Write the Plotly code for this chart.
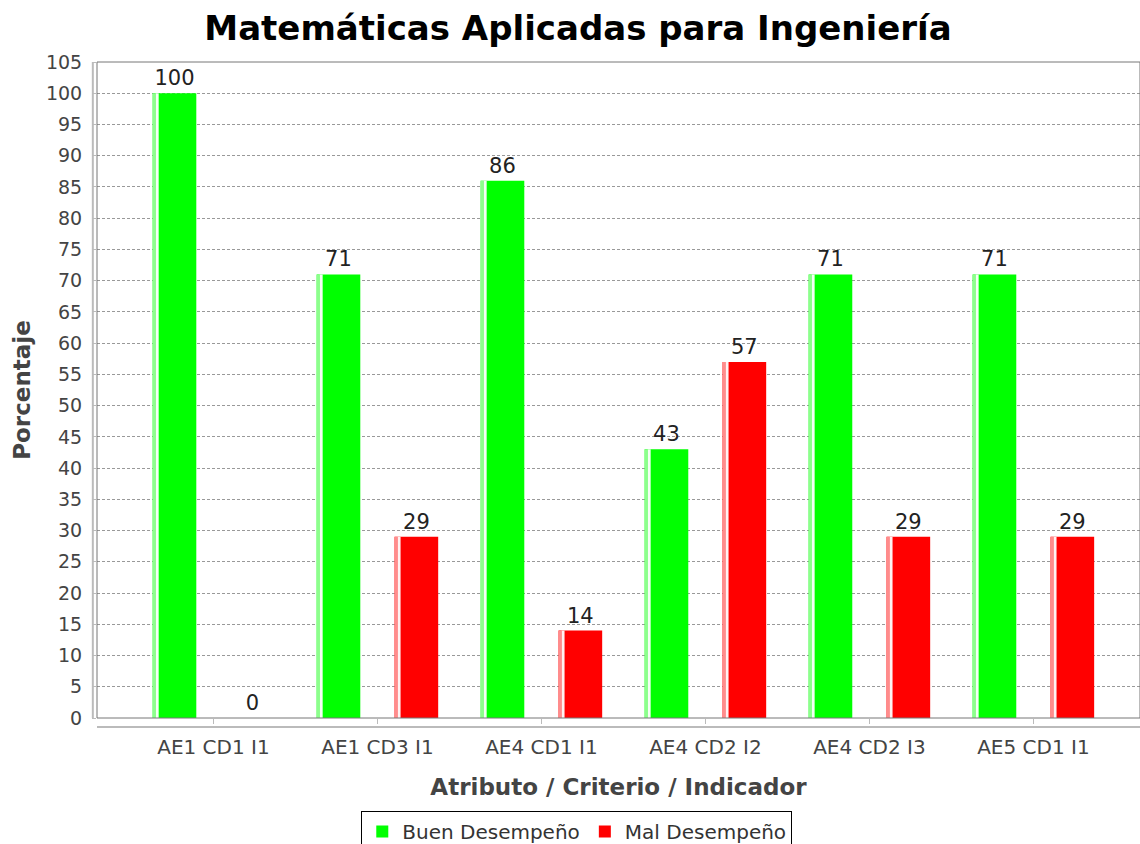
import plotly.graph_objects as go

categories = ["AE1 CD1 I1", "AE1 CD3 I1", "AE4 CD1 I1", "AE4 CD2 I2", "AE4 CD2 I3", "AE5 CD1 I1"]
buen = [100, 71, 86, 43, 71, 71]
mal = [0, 29, 14, 57, 29, 29]
yticks = list(range(0, 106, 5))

FONT = "DejaVu Sans"
BARGAP, GROUPGAP = 0.05, 0.44
slot = (1 - BARGAP) / 2
bw = slot * (1 - GROUPGAP)
px = 1 / 164.0  # approx category units per pixel

fig = go.Figure()
fig.add_trace(go.Bar(name="Buen Desempeño", x=categories, y=buen, marker=dict(color="#00ff00", line=dict(width=0)),
                     text=buen, textposition="outside", cliponaxis=False,
                     textfont=dict(family=FONT, size=21, color="#222")))
fig.add_trace(go.Bar(name="Mal Desempeño", x=categories, y=mal, marker=dict(color="#ff0000", line=dict(width=0)),
                     text=mal, textposition="outside", cliponaxis=False,
                     textfont=dict(family=FONT, size=21, color="#222")))

# highlight stripes (gradient look of the original renderer)
for vals, sign, tint in [(buen, -1, "#8cff8c"), (mal, 1, "#ff8c8c")]:
    left = sign * slot / 2 - bw / 2
    fig.add_trace(go.Bar(x=categories, y=vals, offset=left, width=3 * px, marker=dict(color=tint, line=dict(width=0)),
                         showlegend=False, hoverinfo="skip"))
    fig.add_trace(go.Bar(x=categories, y=vals, offset=left + 3 * px, width=3 * px,
                         marker=dict(color="#f4fff4" if sign < 0 else "#fff2f2", line=dict(width=0)),
                         showlegend=False, hoverinfo="skip"))

fig.update_layout(
    width=1140, height=844,
    margin=dict(l=97, r=0, t=62, b=126, autoexpand=False),
    paper_bgcolor="white", plot_bgcolor="white",
    barmode="group", bargap=BARGAP, bargroupgap=GROUPGAP,
    font=dict(family=FONT, color="#444"),
    title=dict(text="<b>Matemáticas Aplicadas para Ingeniería</b>", x=0.507, xanchor="center", y=0.967, yanchor="middle",
               font=dict(family=FONT, size=34, color="black")),
    xaxis=dict(range=[-0.71, 5.65], showgrid=False, automargin=False,
               ticks="outside", ticklen=5, tickcolor="#bbb", ticklabelstandoff=6,
               tickfont=dict(size=20, color="#444"),
               title=dict(text="<b>Atributo / Criterio / Indicador</b>", font=dict(size=23, color="#444"), standoff=20)),
    yaxis=dict(range=[0, 105], tickvals=yticks, showgrid=True, gridcolor="#999", griddash="3px,2px", gridwidth=1,
               automargin=False, ticks="outside", ticklen=4, tickcolor="#bbb", ticklabelstandoff=6,
               tickfont=dict(size=19, color="#444"), zeroline=False,
               title=dict(text="<b>Porcentaje</b>", font=dict(size=23, color="#444"), standoff=8)),
    legend=dict(orientation="h", x=0.46, xanchor="center", y=-0.1418, yanchor="top",
                bordercolor="black", borderwidth=1, font=dict(size=20, color="#333"),
                itemwidth=30, tracegroupgap=0, traceorder="normal"),
    showlegend=True,
)
# plot area border and offset axis lines
fig.add_shape(type="rect", xref="paper", yref="paper", x0=0, x1=1, y0=0, y1=1, line=dict(color="#777", width=1))
fig.add_shape(type="line", xref="paper", yref="paper", x0=-0.004, x1=-0.004, y0=0, y1=1, line=dict(color="#bbb", width=2))
fig.add_shape(type="line", xref="paper", yref="paper", x0=0, x1=1, y0=-0.0137, y1=-0.0137, line=dict(color="#bbb", width=2))

fig.write_html("out.html", config={"displayModeBar": False},
               post_script="document.body.style.margin='0';document.body.style.overflow='hidden';")
